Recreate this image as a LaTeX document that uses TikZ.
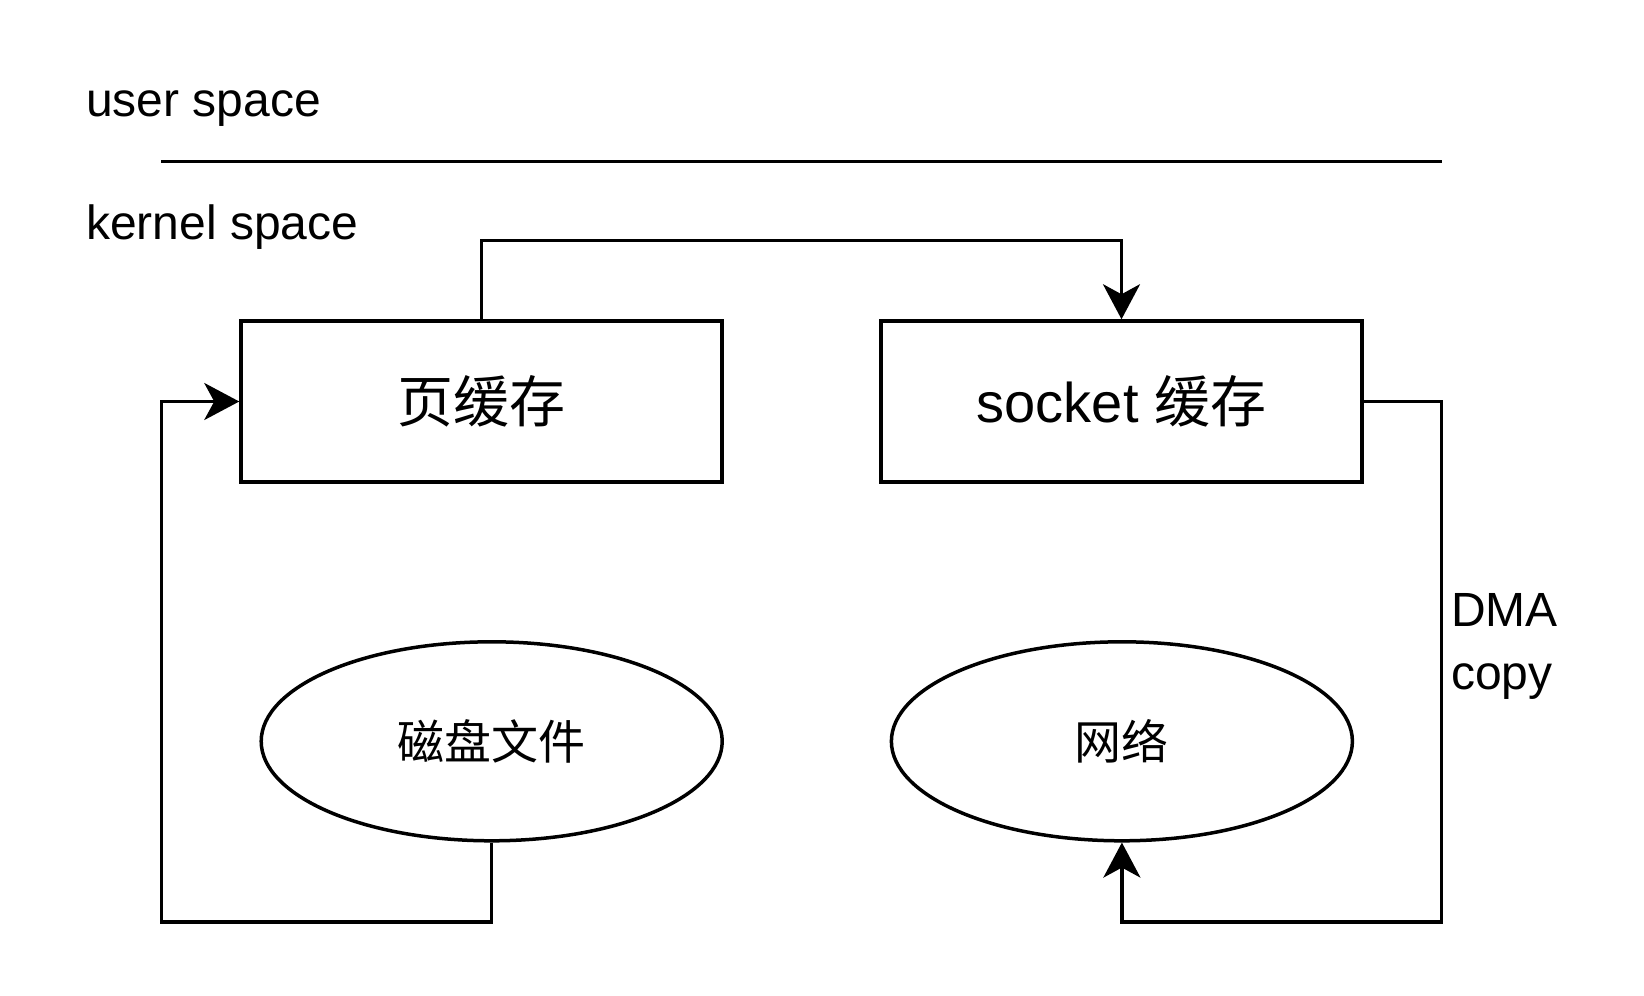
\documentclass[tikz,border=0pt]{standalone}
\usepackage{fontspec}
\setmainfont{Liberation Sans}
\newfontfamily\cjk{Noto Sans CJK SC}
\usetikzlibrary{arrows.meta,positioning,shapes.geometric}
\definecolor{ink}{HTML}{000000}
\tikzset{
  cachebox/.style={draw=ink,line width=3.5pt,rectangle,
                   minimum width=481pt,minimum height=161pt,inner sep=0pt,
                   font=\fontsize{56}{66}\selectfont},
  devoval/.style={draw=ink,line width=3.5pt,ellipse,
                  minimum width=461pt,minimum height=199pt,inner sep=0pt,
                  font=\fontsize{47}{56}\selectfont\cjk},
  spacelabel/.style={anchor=west,inner sep=0pt,
                     font=\fontsize{48}{56}\selectfont},
  blackarr/.style={-{Stealth[length=35pt,width=37pt,inset=10pt]},
                   line width=3.5pt,draw=ink}
}
\begin{document}
\begin{tikzpicture}[x=1pt,y=-1pt]
    \path[use as bounding box,fill=white] (0,0) rectangle (1644,996);
    \node[spacelabel] (user) at (86,109) {user space};
    \node[spacelabel] (kernel) at (86,227) {kernel space};
    \draw[line width=3.5pt,draw=ink] (161,161.5) -- (1442,161.5);

    \node[cachebox] (pcache) at (481.5,401.5) {\cjk 页缓存};
    \node[cachebox] (scache) at (1121.5,401.5) {socket {\cjk 缓存}};
    \node[devoval] (disk) at (491.7,741.3) {磁盘文件};
    \node[devoval] (net) at (1121.9,741.3) {网络};

    \coordinate (lcorner) at (161.5,922);
    \coordinate (rcorner) at (1441.7,922);
    \draw[blackarr] (pcache.north) -- ++(0,-79) -| (scache.north);
    \draw[blackarr] (disk.south) |- (lcorner) |- (pcache.west);
    \draw[blackarr] (scache.east) -| (rcorner) -| (net.south);

    \node[spacelabel,align=left,font=\fontsize{48}{63}\selectfont]
      (dma) at (1451,646) {DMA\\copy};
  \end{tikzpicture}
\end{document}
